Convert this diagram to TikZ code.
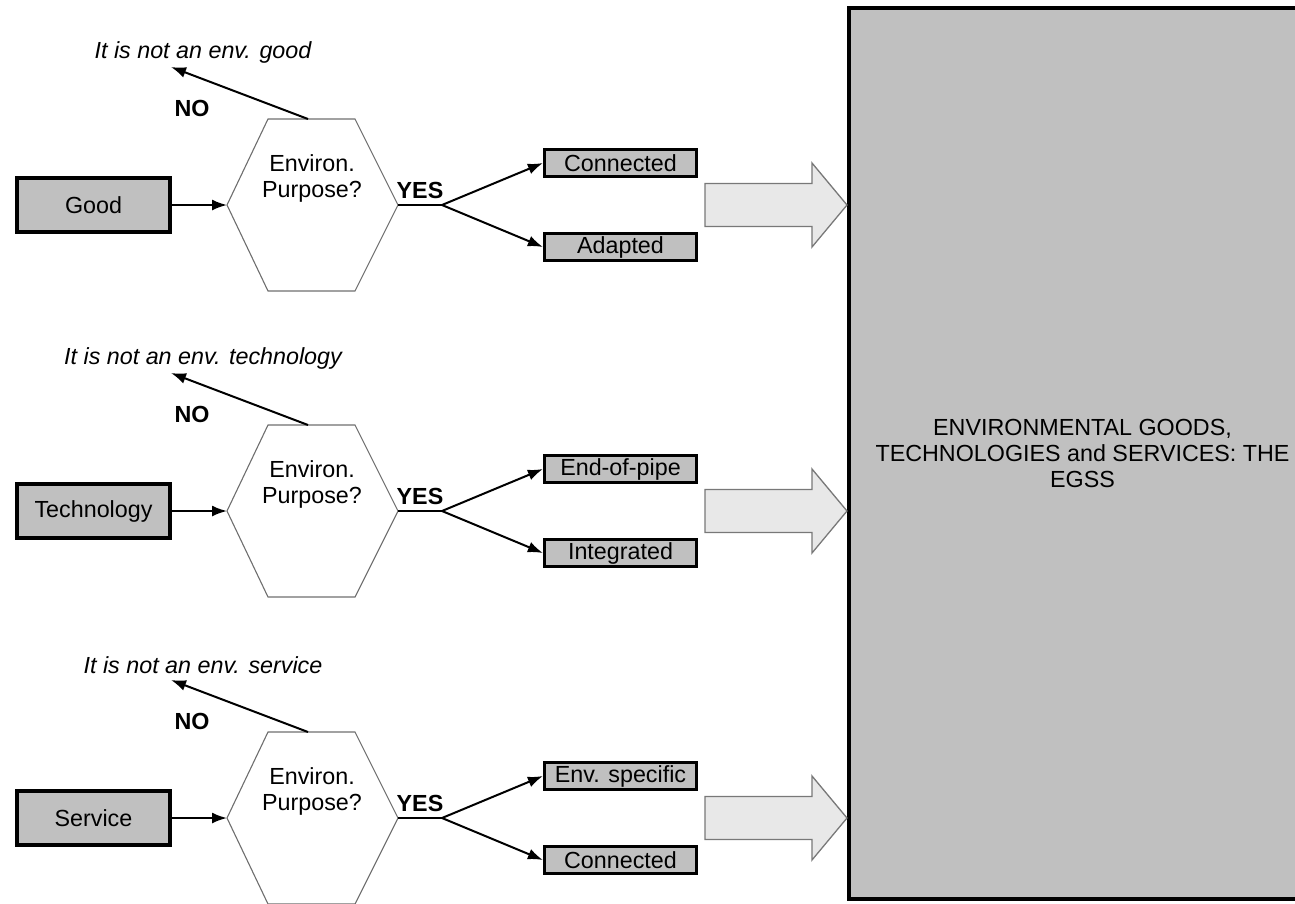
\documentclass[tikz,border=0pt]{standalone}
\usepackage{fontspec}
\setmainfont{Liberation Sans}
\usetikzlibrary{arrows.meta}
\definecolor{boxgray}{RGB}{192,192,192}
\definecolor{arrowfill}{RGB}{232,232,232}
\definecolor{hexline}{RGB}{110,110,110}
\definecolor{arrowline}{RGB}{120,120,120}
\begin{document}
\begin{tikzpicture}[x=1pt,y=-1pt,
  font=\fontsize{23.3}{26}\selectfont,
  srcbox/.style={draw=black, line width=4pt, fill=boxgray, minimum width=153pt, minimum height=54pt, inner sep=0pt},
  catbox/.style={draw=black, line width=3.2pt, fill=boxgray, minimum width=152pt, minimum height=27pt, inner sep=0pt},
  bigbox/.style={draw=black, line width=4pt, fill=boxgray, minimum width=467pt, minimum height=891pt, inner sep=0pt, align=center},
  flow/.style={line width=2pt, -{Latex[length=15pt,width=11pt]}},
  plainline/.style={line width=2pt},
  hexshape/.style={draw=hexline, line width=1.1pt, line join=miter},
  blockarrow/.style={draw=arrowline, fill=arrowfill, line width=1.3pt, line join=miter},
  notext/.style={font=\fontsize{23.3}{26}\selectfont\itshape},
  lbl/.style={font=\fontsize{23.3}{26}\selectfont\bfseries},
  qtext/.style={align=center, inner sep=0pt}
]
\useasboundingbox (0,0) rectangle (1295,903);

% big target box
\node[bigbox] (egss) at (1082.5,453.5) {ENVIRONMENTAL GOODS,\\TECHNOLOGIES and SERVICES: THE\\EGSS};

\foreach \i/\dy/\src/\what/\ca/\cb in {1/0/Good/good/Connected/Adapted,
    2/306/Technology/technology/End-of-pipe/Integrated,
    3/613/Service/service/Env. specific/Connected} {
  % source box
  \node[srcbox] (src\i) at (93.5,205+\dy) {\src};
  % hexagon
  \coordinate (hl\i)  at (227,205+\dy);
  \coordinate (htl\i) at (268,119+\dy);
  \coordinate (htr\i) at (355,119+\dy);
  \coordinate (hr\i)  at (398,205+\dy);
  \coordinate (hbr\i) at (355,291+\dy);
  \coordinate (hbl\i) at (268,291+\dy);
  \coordinate (ht\i)  at (308,119+\dy);
  \draw[hexshape] (hl\i) -- (htl\i) -- (htr\i) -- (hr\i) -- (hbr\i) -- (hbl\i) -- cycle;
  \node[qtext] (q\i) at (312,178+\dy) {Environ.\\Purpose?};
  % NO branch
  \node[notext] (not\i) at (203,52+\dy) {It is not an env. \what};
  \coordinate (notend\i) at (171,67+\dy);
  \draw[flow] (ht\i) -- (notend\i);
  \node[lbl] (no\i) at (192,108+\dy) {NO};
  % input arrow
  \draw[flow] (src\i.east) -- (hl\i);
  % YES branch
  \node[lbl] (yes\i) at (420,190+\dy) {YES};
  \coordinate (split\i) at (442,205+\dy);
  \draw[plainline] (hr\i) -- (split\i);
  \node[catbox] (a\i) at (620.5,163+\dy) {\ca};
  \node[catbox] (b\i) at (620.5,247+\dy) {\cb};
  \draw[flow] (split\i) -- (a\i.west);
  \draw[flow] (split\i) -- (b\i.west);
  % block arrow
  \coordinate (bt\i) at (847,205+\dy);
  \draw[blockarrow] (705,183.5+\dy) -- (812,183.5+\dy) -- (812,163+\dy) -- (bt\i)
     -- (812,247+\dy) -- (812,226.5+\dy) -- (705,226.5+\dy) -- cycle;
}
\end{tikzpicture}
\end{document}
